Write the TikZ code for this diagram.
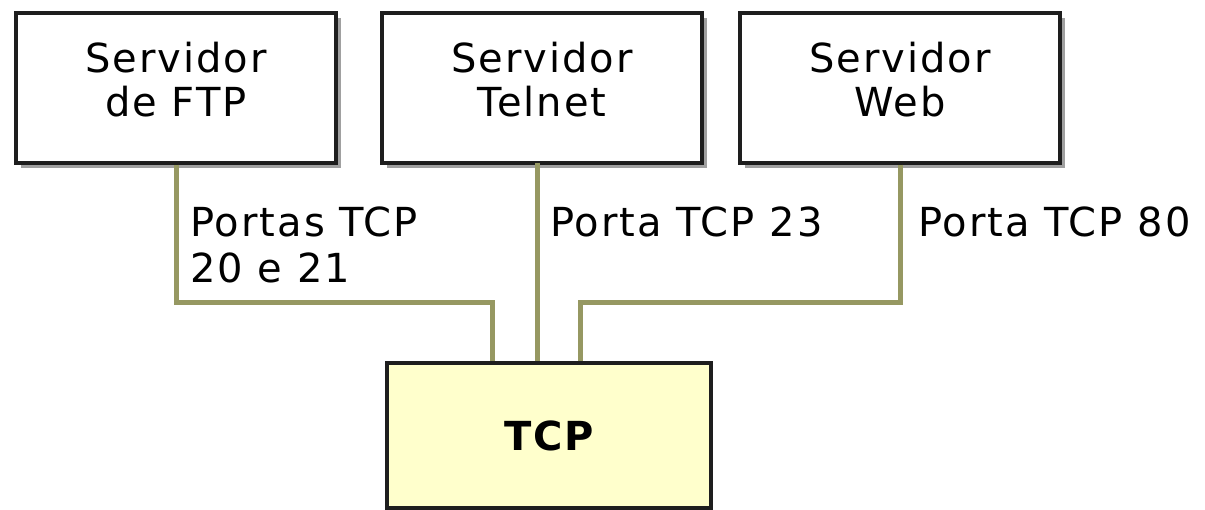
\documentclass[tikz,border=0pt]{standalone}
\usepackage{fontspec}
\setmainfont{DejaVu Sans}[LetterSpace=5.0]
\usetikzlibrary{shadows}
\definecolor{linkolive}{RGB}{150,152,98}
\definecolor{boxedge}{RGB}{30,30,30}
\definecolor{tcpfill}{RGB}{255,255,204}
\definecolor{shade}{RGB}{160,160,160}
\begin{document}
\begin{tikzpicture}[x=1pt,y=-1pt,
  server/.style={draw=boxedge, line width=3.5pt, fill=white,
    minimum width=320pt, minimum height=150pt, inner sep=0pt,
    align=center, text depth=18pt,
    font=\fontsize{40}{44}\selectfont,
    drop shadow={shadow xshift=5pt, shadow yshift=-5pt, fill=shade, opacity=1}},
  core/.style={draw=boxedge, line width=3.5pt, fill=tcpfill,
    minimum width=324pt, minimum height=145pt, inner sep=0pt,
    font=\fontsize{40}{44}\selectfont\bfseries},
  port/.style={anchor=base west, inner sep=0pt, align=left,
    font=\fontsize{40}{46}\selectfont},
  link/.style={draw=linkolive, line width=5pt}]
  \useasboundingbox (0,0) rectangle (1205,510);
  \fill[white] (0,0) rectangle (1205,510);

  % server boxes
  \node[server] (ftp)    at (176,88) {Servidor\\de FTP};
  \node[server] (telnet) at (542,88) {Servidor\\Telnet};
  \node[server] (web)    at (900,88) {Servidor\\Web};

  % connectors (drawn before the TCP box so it covers their ends)
  \coordinate (bendftp) at (492,303);
  \coordinate (bendweb) at (580,303);
  \coordinate (telnetdrop) at (537,163);
  \coordinate (tcptop) at (549,363);
  \draw[link] (ftp.south) |- (bendftp) -- (bendftp |- tcptop);
  \draw[link] (telnetdrop) -- (telnetdrop |- tcptop);
  \draw[link] (web.south) |- (bendweb) -- (bendweb |- tcptop);

  % TCP box
  \node[core] (tcp) at (549,435.5) {TCP};

  % port labels (base anchor sits on the last line)
  \node[port] (lftp)    at (190,283) {Portas TCP\\20 e 21};
  \node[port] (ltelnet) at (550,237) {Porta TCP 23};
  \node[port] (lweb)    at (918,237) {Porta TCP 80};
\end{tikzpicture}
\end{document}
